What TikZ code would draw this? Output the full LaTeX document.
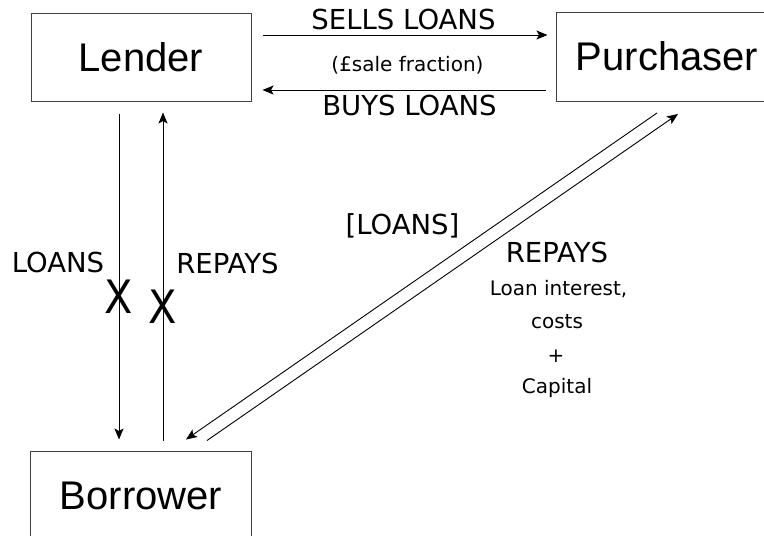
\documentclass[tikz,border=0pt]{standalone}
\usepackage{fontspec}
\setmainfont{Liberation Sans}
\newfontfamily\dvfont{DejaVu Sans}
\usetikzlibrary{arrows.meta}
\begin{document}
\begin{tikzpicture}[x=1pt,y=-1pt,
  box/.style={draw=black!75,line width=1pt,minimum width=220pt,minimum height=88pt,inner sep=0pt,
    font=\fontsize{40}{48}\selectfont},
  edge/.style={draw=black!75,line width=1pt},
  arr/.style={line width=0.9pt,-{Stealth[length=11pt,width=9pt,inset=2.5pt]}},
  big/.style={font=\dvfont\fontsize{27.5}{32}\selectfont,anchor=base,inner sep=0pt},
  small/.style={font=\dvfont\fontsize{20}{24}\selectfont,anchor=base,inner sep=0pt},
  cross/.style={font=\dvfont\fontsize{46}{50}\selectfont,anchor=base,inner sep=0pt,xscale=0.9}]
\useasboundingbox (0,0) rectangle (764,536);
\node[box] (lender) at (141,57) {Lender};
\node[box,draw=none] (purchaser) at (667,56.5) {Purchaser};
\draw[edge] (purchaser.north east) -- (purchaser.north west) -- (purchaser.south west) -- (purchaser.south east);
\node[box,draw=none] (borrower) at (141,496) {Borrower};
\draw[edge] (borrower.south west) -- (borrower.north west) -- (borrower.north east) -- (borrower.south east);
% horizontal
\draw[arr] ([xshift=11pt,yshift=22pt]lender.east) -- ([xshift=-9pt,yshift=21.5pt]purchaser.west);
\draw[arr] ([xshift=-11pt,yshift=-33.5pt]purchaser.west) -- ([xshift=11pt,yshift=-33pt]lender.east);
% vertical
\draw[arr] ([xshift=-22pt,yshift=-12pt]lender.south) -- ([xshift=-22pt,yshift=12pt]borrower.north);
\draw[arr] ([xshift=22pt,yshift=11pt]borrower.north) -- ([xshift=22pt,yshift=-11pt]lender.south);
% diagonal
\draw[arr] ([xshift=-10pt,yshift=-12pt]purchaser.south) -- ([xshift=45pt,yshift=12pt]borrower.north);
\draw[arr] ([xshift=66pt,yshift=11pt]borrower.north) -- ([xshift=11pt,yshift=-13pt]purchaser.south);
% labels
\node[big] (sells) at (403.5,29) {SELLS LOANS};
\node[small] (frac) at (407.5,71) {(£sale fraction)};
\node[big] (buys) at (409.5,115) {BUYS LOANS};
\node[big] (loansl) at (58,272) {LOANS};
\node[big] (repaysl) at (227.5,273) {REPAYS};
\node[cross] (x1) at (119,313) {X};
\node[cross] (x2) at (162.5,323) {X};
\node[big] (loansd) at (402.5,234) {[LOANS]};
\node[big] (repaysd) at (557,262) {REPAYS};
\node[small] (interest) at (558.5,295) {Loan interest,};
\node[small] (costs) at (557,328) {costs};
\node[small] (plus) at (556,362) {+};
\node[small] (capital) at (557,393) {Capital};
\end{tikzpicture}
\end{document}
